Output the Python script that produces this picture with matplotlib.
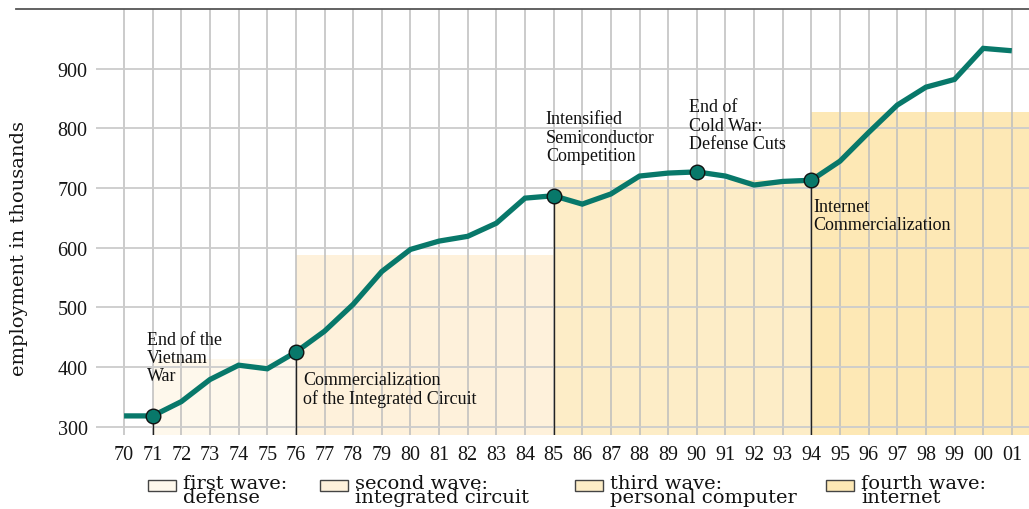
import matplotlib
matplotlib.use("Agg")
import matplotlib.pyplot as plt
from matplotlib.patches import Rectangle
from matplotlib.lines import Line2D

# ---- data ----
years = list(range(70, 102))  # 70 .. 101 (00, 01 shown as 00, 01)
year_labels = [f"{y % 100:02d}" for y in years]
employment = [318, 318, 342, 379, 403, 397, 425, 460, 505, 560, 597, 611,
              619, 641, 683, 687, 673, 690, 720, 725, 727, 720, 705, 711,
              713, 745, 793, 839, 869, 882, 934, 930]

event_years = [71, 76, 85, 90, 94]
stem_years = [71, 76, 85, 94]
event_texts = ["End of the\nVietnam\nWar",
               "Commercialization\nof the Integrated Circuit",
               "Intensified\nSemiconductor\nCompetition",
               "End of\nCold War:\nDefense Cuts",
               "Internet\nCommercialization"]
event_text_pos = [(70.80, 461), (76.25, 394), (84.73, 830), (89.72, 850), (94.08, 683)]

wave_starts = [71, 76, 85, 94]
wave_ends = [76, 85, 94, 101.6]
wave_tops = [413, 587, 713, 828]
wave_labels = ["first wave:\ndefense", "second wave:\nintegrated circuit",
               "third wave:\npersonal computer", "fourth wave:\ninternet"]
wave_colors = ["#FEF8EC", "#FEF1DB", "#FDEDC7", "#FDE8B5"]

y_ticks = [300, 400, 500, 600, 700, 800, 900]

# ---- figure ----
W, H = 1029, 510
fig = plt.figure(figsize=(W / 100, H / 100), dpi=100)
ax = fig.add_axes([96 / W, 1 - 436 / H, (W - 96) / W, 426 / H])
ax.set_xlim(69.02, 101.6)
ax.set_ylim(286, 1000)

BASE = 286
for x0, x1, top, c in zip(wave_starts, wave_ends, wave_tops, wave_colors):
    ax.add_patch(Rectangle((x0, BASE), x1 - x0, top - BASE, facecolor=c,
                           edgecolor="none", zorder=0))

ax.set_xticks(years)
ax.set_xticklabels(year_labels)
ax.set_yticks(y_ticks)
ax.tick_params(length=0, labelsize=14.5, pad=7, labelcolor="#151515")
for lab in ax.get_xticklabels() + ax.get_yticklabels():
    lab.set_fontfamily("Liberation Serif")
ax.tick_params(axis="y", pad=6)
ax.grid(True, axis="x", color="#bdbdbd", lw=1.1, zorder=1)
ax.grid(True, axis="y", color="#cccccc", lw=1.3, zorder=1)
ax.set_axisbelow(False)
for s in ax.spines.values():
    s.set_visible(False)

# stems from event markers down to the axis bottom
for yr in stem_years:
    v = employment[years.index(yr)]
    ax.plot([yr, yr], [BASE, v], color="#222222", lw=1.0, zorder=3)

ax.plot(years, employment, color="#08786A", lw=3.8, solid_capstyle="butt",
        solid_joinstyle="miter", zorder=4)
ax.plot(event_years, [employment[years.index(y)] for y in event_years],
        "o", ms=10.5, mfc="#08786A", mec="#111111", mew=1.0, zorder=5)

for txt, (tx, ty) in zip(event_texts, event_text_pos):
    ax.text(tx, ty, txt, ha="left", va="top", fontsize=13,
            family="Liberation Serif", linespacing=1.1, color="#111111",
            zorder=6)

ax.set_ylabel("employment in thousands", fontsize=14, family="DejaVu Serif",
              color="#151515")
ax.yaxis.set_label_coords(-68 / (W - 96), 0.44)

# top rule
fig.add_artist(Line2D([16 / W, 1.0], [1 - 10 / H, 1 - 10 / H],
                      transform=fig.transFigure, color="#555555", lw=1.3))

# legend (manual, so the swatch aligns with the first text line)
leg_x = [148, 320, 575, 826]
for x, lab, c in zip(leg_x, wave_labels, wave_colors):
    fig.add_artist(Rectangle((x / W, 1 - 492 / H), 28 / W, 11 / H,
                             transform=fig.transFigure, facecolor=c,
                             edgecolor="#444444", lw=1.0))
    fig.text((x + 35) / W, 1 - 475 / H, lab, ha="left", va="top",
             fontsize=14, family="DejaVu Serif", linespacing=0.75,
             color="#111111")

fig.savefig("out.png", dpi=100)
